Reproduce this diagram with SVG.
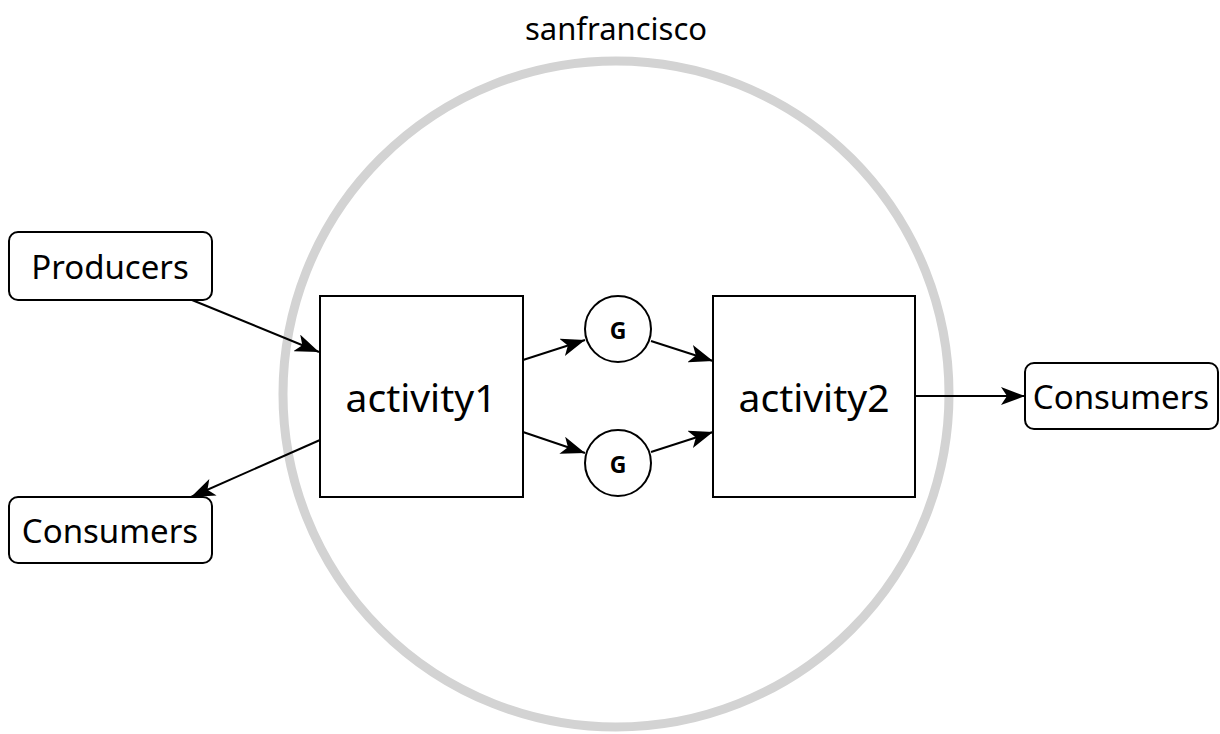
<svg xmlns="http://www.w3.org/2000/svg" width="1220" height="734" viewBox="0 0 1220 734">
<style>
text{font-family:"Noto Sans","DejaVu Sans",sans-serif;fill:#000;text-anchor:middle;dominant-baseline:central}
.box{fill:#fff;stroke:#000;stroke-width:2}
.lbl{font-size:33px}
.big{font-size:39px}
.gl{font-weight:bold}
.edge{fill:none;stroke:#000;stroke-width:2}
</style>
<defs>
<marker id="ah" viewBox="0 0 24 18" refX="24" refY="9" markerWidth="24" markerHeight="18" markerUnits="userSpaceOnUse" orient="auto">
<path d="M0,0 L24,9 L0,18 L6,9 Z" fill="#000"/>
</marker>
</defs>
<rect width="1220" height="734" fill="#fff"/>
<g id="cluster">
<circle cx="616" cy="394" r="333" fill="none" stroke="#d3d3d3" stroke-width="9"/>
<text x="616" y="28" style="font-size:31px">sanfrancisco</text>
</g>
<g id="connectors">
<line class="edge" x1="192" y1="300" x2="319" y2="352" marker-end="url(#ah)"/>
<line class="edge" x1="320" y1="440" x2="191" y2="497" marker-end="url(#ah)"/>
<line class="edge" x1="523" y1="360" x2="585" y2="340" marker-end="url(#ah)"/>
<line class="edge" x1="651" y1="341" x2="713" y2="361" marker-end="url(#ah)"/>
<line class="edge" x1="523" y1="432" x2="585" y2="453" marker-end="url(#ah)"/>
<line class="edge" x1="651" y1="452" x2="713" y2="432" marker-end="url(#ah)"/>
<line class="edge" x1="915" y1="396" x2="1025" y2="396" marker-end="url(#ah)"/>
</g>
<g id="producers">
<rect class="box" x="9" y="232" width="203" height="68" rx="9"/>
<text class="lbl" x="110" y="266">Producers</text>
</g>
<g id="consumers1">
<rect class="box" x="9" y="497" width="203" height="66" rx="9"/>
<text class="lbl" x="110" y="530">Consumers</text>
</g>
<g id="activity1">
<rect class="box" x="320" y="296" width="203" height="201"/>
<text class="big" x="421" y="396">activity1</text>
</g>
<g id="g1">
<circle class="box" cx="618" cy="329" r="33"/>
<text class="gl" x="618" y="330" font-size="23">G</text>
</g>
<g id="g2">
<circle class="box" cx="618" cy="463" r="33"/>
<text class="gl" x="618" y="464" font-size="23">G</text>
</g>
<g id="activity2">
<rect class="box" x="713" y="296" width="202" height="201"/>
<text class="big" x="814" y="396">activity2</text>
</g>
<g id="consumers2">
<rect class="box" x="1025" y="363" width="193" height="66" rx="9"/>
<text class="lbl" x="1121" y="396">Consumers</text>
</g>
</svg>
